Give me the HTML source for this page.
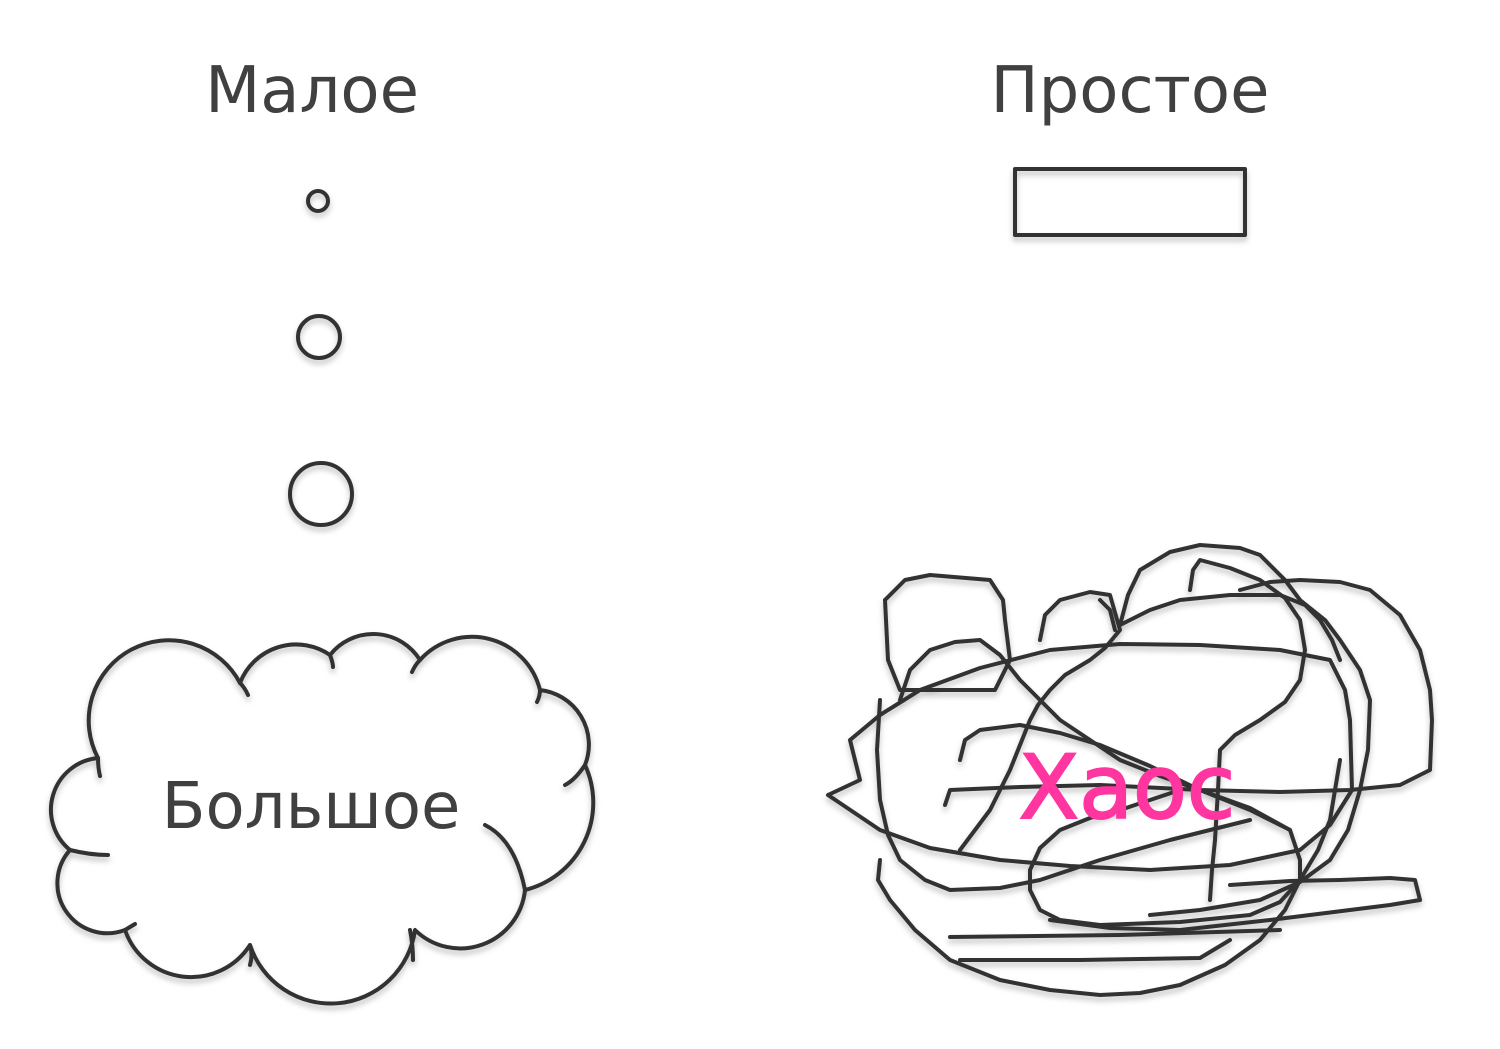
<!DOCTYPE html>
<html><head><meta charset="utf-8"><style>
html,body{margin:0;padding:0;background:#fff;}
svg{display:block}
text{font-family:"DejaVu Sans","Liberation Sans",sans-serif;}
</style></head><body>
<svg width="1500" height="1049" viewBox="0 0 1500 1049">
<defs>
<filter id="sh" x="-10%" y="-10%" width="120%" height="130%"><feDropShadow dx="0" dy="4" stdDeviation="3" flood-color="#000" flood-opacity="0.25"/></filter>
</defs>
<text x="312" y="112" font-size="64" fill="#404040" text-anchor="middle">Малое</text>
<text x="1130" y="112" font-size="64" fill="#404040" text-anchor="middle">Простое</text>
<g fill="none" stroke="#333" stroke-width="4" stroke-linejoin="round" stroke-linecap="round" filter="url(#sh)">
<circle cx="318" cy="201" r="10"/>
<circle cx="319" cy="337" r="21"/>
<circle cx="321" cy="494" r="31"/>
<rect x="1015" y="169" width="230" height="66"/>
<path d="M98,758 A80,80 0 0 1 240,683 A60,60 0 0 1 330,655 A55,55 0 0 1 420,660 A70,70 0 0 1 540,690 A55,55 0 0 1 585,765 A90,90 0 0 1 525,890 A65,65 0 0 1 415,930 A85,85 0 0 1 250,945 A70,70 0 0 1 125,930 A50,50 0 0 1 70,850 A52,52 0 0 1 98,758 Z"/>
<path d="M240,683 q5,5 8,12 M330,655 q3,8 3,12 M420,660 q-5,5 -8,12 M540,690 q0,6 -3,12 M585,765 q-10,15 -20,20 M485,825 q30,15 40,65 M410,930 q3,15 3,30 M250,945 q3,10 0,20 M125,930 q5,-3 10,-6 M70,850 q20,5 38,5 M98,758 q0,10 2,18"/>
<g>
<polyline points="885,600 905,580 930,575 990,580 1003,600 1005,620 1010,660 995,690 940,690 900,690 888,660 885,600"/>
<polyline points="828,795 860,780 850,740 880,715 920,690 980,668 1050,650 1120,644 1200,645 1280,650 1330,660 1345,690 1350,720 1352,790 1330,825 1300,850 1230,865 1150,870 1070,866 1000,860 930,848 880,830 828,795"/>
<polyline points="1120,625 1128,595 1140,570 1170,552 1200,545 1240,548 1260,555 1285,580 1300,600 1325,620 1340,640 1360,670 1370,700 1368,750 1360,790 1348,830 1330,860 1300,882 1260,900 1200,910 1150,915"/>
<polyline points="1240,590 1270,582 1300,580 1340,582 1370,590 1400,615 1420,650 1430,690 1432,720 1430,770 1400,785 1350,790 1280,792 1200,790 1100,785 1020,787 950,790 945,805"/>
<polyline points="1040,640 1045,615 1060,600 1090,592 1110,595 1120,630 1105,648 1090,660 1065,675 1050,690 1038,705 1030,720 1020,745 1010,770 1000,790 990,810 975,830 960,850"/>
<polyline points="880,860 878,880 890,900 915,930 950,960 1000,980 1050,990 1100,995 1140,993 1180,985 1225,965 1260,940 1285,910 1300,880 1318,850 1330,820 1340,760"/>
<polyline points="950,937 1120,935 1280,930"/>
<polyline points="960,960 1080,960 1200,958 1230,940"/>
<polyline points="1230,885 1290,881 1340,880 1390,878 1415,880 1420,900 1390,905 1350,910 1270,920 1180,930 1110,928 1050,920"/>
<polyline points="960,760 965,740 980,730 1020,725 1060,733 1100,745 1150,766 1200,790 1250,808 1290,830 1300,860 1300,880 1280,902 1250,915 1180,922 1100,925 1060,920 1040,910 1030,890 1030,870 1040,848 1060,830 1090,818 1120,810 1150,800 1180,790"/>
<polyline points="1190,590 1193,570 1200,560 1230,568 1260,580 1285,598 1300,620 1305,650 1300,680 1285,702 1260,720 1235,735 1220,750 1218,790 1215,840 1212,870 1210,900"/>
<polyline points="900,700 910,670 930,650 955,642 980,640 1000,655 1020,680 1040,700 1060,720 1090,740 1120,760 1160,776 1200,790 1250,810 1290,830"/>
<polyline points="880,700 877,750 880,800 888,835 900,860 925,880 950,890 1000,888 1040,880 1070,870 1100,860 1135,850 1170,840 1210,830 1250,820"/>
<polyline points="1120,625 1150,610 1180,600 1230,595 1280,595 1305,605 1320,620 1332,640 1340,660"/>
<polyline points="1115,630 1110,610 1100,600"/>
</g>
</g>
<text x="311" y="828" font-size="64" fill="#404040" text-anchor="middle">Большое</text>
<text x="1127" y="818" font-size="88" fill="#ff35a0" stroke="#ff35a0" stroke-width="2" text-anchor="middle">Хаос</text>
</svg>
</body></html>
